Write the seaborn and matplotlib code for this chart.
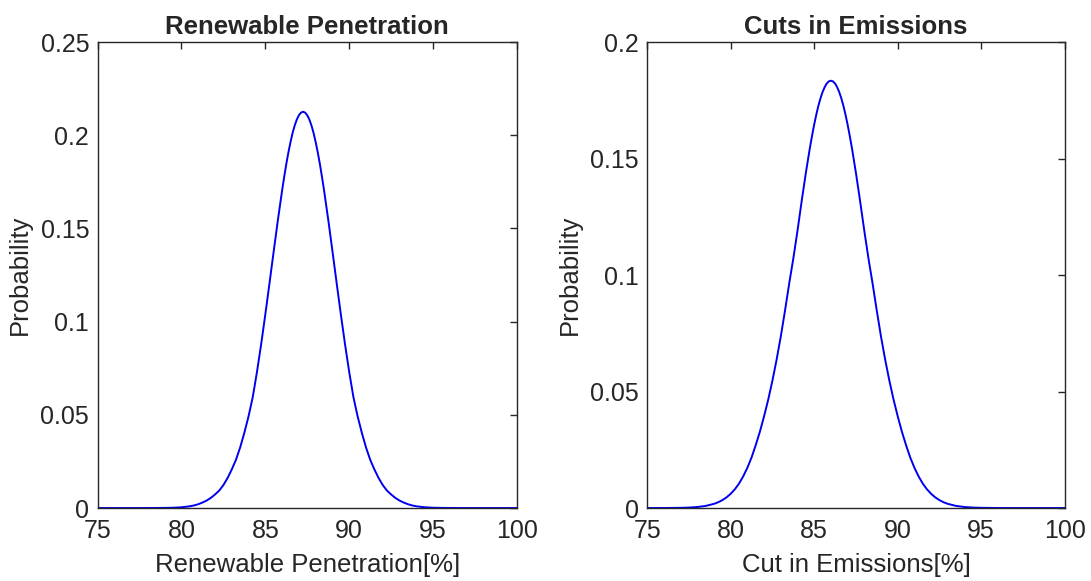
import matplotlib
matplotlib.use("Agg")
import matplotlib.pyplot as plt
from matplotlib.ticker import FuncFormatter
import seaborn as sns

# values
renew_x = [75, 77, 78, 79, 79.5, 80, 80.5, 80.75, 81, 81.25, 81.5, 81.75,
           82, 82.25, 82.5, 82.75, 83, 83.25, 83.5, 83.75, 84, 84.25, 84.5, 84.75,
           85, 85.25, 85.5, 85.75, 86, 86.125, 86.25, 86.375, 86.5, 86.625, 86.75, 86.875,
           87, 87.125, 87.25, 87.375, 87.5, 87.625, 87.75, 87.875, 88, 88.125, 88.25, 88.375,
           88.5, 88.75, 89, 89.25, 89.5, 89.75, 90, 90.25, 90.5, 90.75,
           91, 91.25, 91.5, 91.75, 92, 92.25, 92.5, 92.75, 93, 93.25, 93.5, 93.75,
           94, 94.5, 95, 95.5, 96.5, 97, 100]
renew_prob = [0, 0, 0.00001, 0.00007, 0.00016, 0.0004, 0.00093, 0.00139, 0.00204, 0.00293, 0.0040, 0.00542,
              0.00726, 0.00934, 0.0123, 0.0161, 0.0207, 0.0259, 0.0325, 0.0404, 0.0492, 0.0595, 0.0729, 0.0878,
              0.1039, 0.1207, 0.1378, 0.1546, 0.1704, 0.1777, 0.1846, 0.1908, 0.1963, 0.2012, 0.2052, 0.2084,
              0.2107, 0.2121, 0.2126, 0.2121, 0.2107, 0.2084, 0.2052, 0.2012, 0.1963, 0.1908, 0.1846, 0.1777,
              0.1704, 0.1546, 0.1378, 0.1207, 0.1039, 0.0878, 0.0729, 0.0595, 0.0492, 0.0404,
              0.0325, 0.0259, 0.0207, 0.0161, 0.0123, 0.00934, 0.00726, 0.00542, 0.0040, 0.00293, 0.00204, 0.00139,
              0.00093, 0.0004, 0.00016, 0.00007, 0.00001, 0, 0]

cuts_x = [75, 76, 77, 77.5, 78, 78.5, 79, 79.25, 79.5, 79.75, 80, 80.25, 80.5, 80.75,
          81, 81.25, 81.5, 81.75, 82, 82.25, 82.5, 82.75, 83, 83.25, 83.5, 83.75,
          84, 84.25, 84.5, 84.75, 84.875, 85, 85.125, 85.25, 85.375, 85.5, 85.625, 85.75, 85.875,
          86, 86.125, 86.25, 86.375, 86.5, 86.625, 86.75, 86.875, 87, 87.125, 87.25,
          87.5, 87.75, 88, 88.25, 88.5, 88.75, 89, 89.25, 89.5, 89.75,
          90, 90.25, 90.5, 90.75, 91, 91.25, 91.5, 91.75, 92, 92.25, 92.5, 92.75,
          93, 93.5, 94, 94.5, 95, 96, 97, 98, 100]
cuts_prob = [0.000002, 0.000014, 0.000087, 0.0002, 0.00043, 0.0009, 0.00179, 0.00247, 0.00338, 0.00457,
             0.00611, 0.00806, 0.0105, 0.0136, 0.0173, 0.0217, 0.0270, 0.0328, 0.0394, 0.0466, 0.0547, 0.0637,
             0.0736, 0.0846, 0.0962, 0.1071, 0.1190, 0.1317, 0.1438, 0.1549, 0.1599, 0.1646, 0.1688, 0.1726,
             0.1758, 0.1785, 0.1806, 0.1822, 0.1831, 0.1834, 0.1831, 0.1822, 0.1806, 0.1785, 0.1758, 0.1726,
             0.1688, 0.1646, 0.1599, 0.1549, 0.1438, 0.1317, 0.1190, 0.1071, 0.0962, 0.0846,
             0.0736, 0.0637, 0.0547, 0.0466, 0.0394, 0.0328, 0.0270, 0.0217, 0.0173, 0.0136, 0.0105, 0.00806,
             0.00611, 0.00457, 0.00338, 0.00247, 0.00179, 0.0009, 0.00043, 0.0002, 0.000087, 0.000014, 0.000002,
             0, 0]

titles = ["Renewable Penetration", "Cuts in Emissions"]
xlabels = ["Renewable Penetration[%]", "Cut in Emissions[%]"]
xticks = [75, 80, 85, 90, 95, 100]
yticks_list = [[0, 0.05, 0.1, 0.15, 0.2, 0.25], [0, 0.05, 0.1, 0.15, 0.2]]

sns.set_theme(style="white")
plt.rcParams['font.family'] = ['Liberation Sans', 'DejaVu Sans']

fig = plt.figure(figsize=(10.91, 5.81), dpi=100)
ax1 = fig.add_axes([0.0894, 0.1256, 0.3845, 0.8021])
ax2 = fig.add_axes([0.5932, 0.1256, 0.3827, 0.8021])

series = [(renew_x, renew_prob), (cuts_x, cuts_prob)]
for i, ax in enumerate([ax1, ax2]):
    xs, ys = series[i]
    sns.lineplot(x=xs, y=ys, ax=ax, color='#0000ee', linewidth=1.4)
    ax.set_xlim(75, 100)
    ax.set_ylim(0, yticks_list[i][-1])
    ax.set_xticks(xticks)
    ax.set_yticks(yticks_list[i])
    ax.yaxis.set_major_formatter(FuncFormatter(lambda v, p: '%g' % v))
    ax.tick_params(direction='in', top=True, right=True, length=5, width=1,
                   color='#262626', labelsize=18, labelcolor='#262626')
    ax.tick_params(axis='x', pad=8)
    ax.tick_params(axis='y', pad=6)
    for sp in ax.spines.values():
        sp.set_color('#262626')
        sp.set_linewidth(1)
    ax.set_title(titles[i], fontsize=18.5, fontweight='bold', pad=6)
    ax.set_xlabel(xlabels[i], fontsize=18.5, color='#262626', labelpad=7)
    ax.set_ylabel("Probability", fontsize=18.5, color='#262626', labelpad=6)

fig.savefig("out.png", dpi=100)
